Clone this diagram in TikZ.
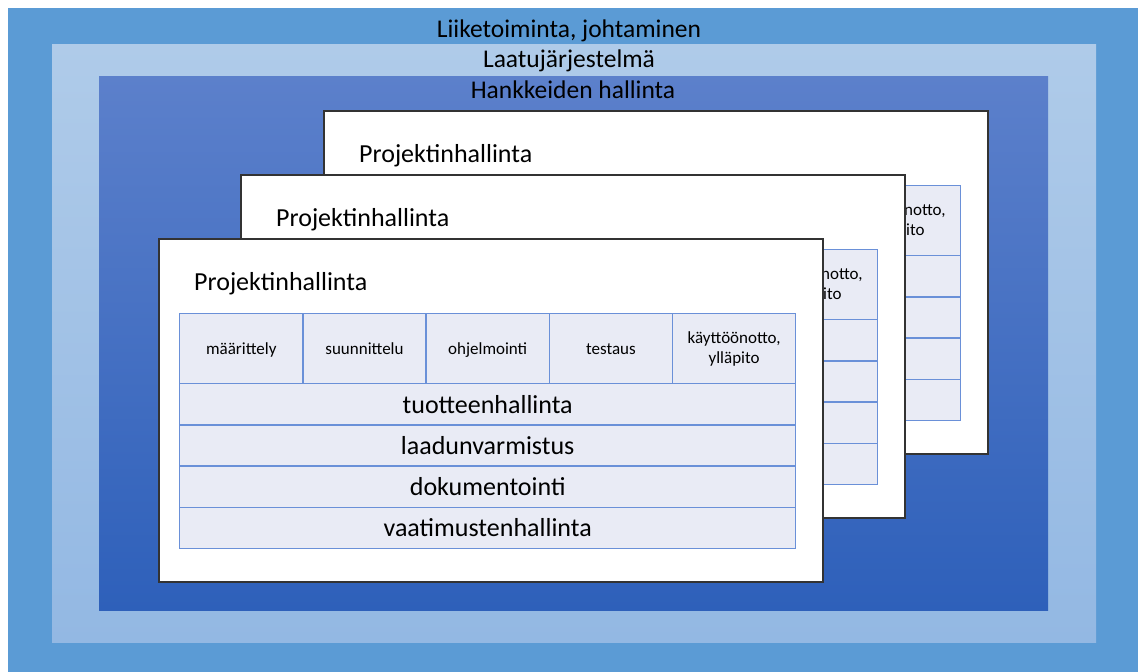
\documentclass[tikz,border=0pt]{standalone}
\usepackage{fontspec}
\setmainfont{Carlito}
\definecolor{outerblue}{HTML}{5B9BD5}
\definecolor{midtop}{HTML}{AFCBE9}
\definecolor{midbot}{HTML}{93B8E3}
\definecolor{intop}{HTML}{5C80CB}
\definecolor{inbot}{HTML}{2E60BA}
\definecolor{cellfill}{HTML}{E9EBF5}
\definecolor{cellline}{HTML}{6A90D8}
\definecolor{cardline}{HTML}{333333}
\tikzset{
  cardbox/.style={draw=cardline, line width=1.6pt, fill=white, anchor=north west,
    minimum width=664pt, minimum height=343pt, inner sep=0pt},
  cardtitle/.style={anchor=base west, font=\fontsize{26}{30}\selectfont, inner sep=0pt},
  cellbase/.style={draw=cellline, line width=1.4pt, fill=cellfill, anchor=north west,
    inner sep=0pt},
  phase/.style={cellbase, minimum width=123.2pt, minimum height=70pt,
    font=\fontsize{17}{20}\selectfont, text height=13pt, text depth=1pt},
  phasetwo/.style={cellbase, minimum width=123.2pt, minimum height=70pt, align=center,
    font=\fontsize{17}{20}\selectfont},
  band/.style={cellbase, minimum width=616pt, minimum height=41.2pt,
    font=\fontsize{26}{30}\selectfont, text height=20pt, text depth=2pt},
  layerlabel/.style={anchor=base, font=\fontsize{25.5}{29}\selectfont, inner sep=0pt}
}
\begin{document}
\begin{tikzpicture}[x=1pt,y=-1pt]
\useasboundingbox (0,0) rectangle (1138,672);
\fill[white] (0,0) rectangle (1138,672);
\fill[outerblue] (8,8) rectangle (1138,672);
\shade[top color=midtop, bottom color=midbot] (52,44) rectangle (1096,642);
\shade[top color=intop, bottom color=inbot] (99,76) rectangle (1048,610);
\node[layerlabel] (liike) at (569,37) {Liiketoiminta, johtaminen};
\node[layerlabel] (laatu) at (569,67) {Laatujärjestelmä};
\node[layerlabel] (hanke) at (573,98) {Hankkeiden hallinta};
\foreach \dx/\dy/\k in {165/-128/3, 82/-64/2, 0/0/1} {
  \begin{scope}[shift={(\dx,\dy)}]
    \node[cardbox] (card\k) at (158,238) {};
    \node[cardtitle] (title\k) at (194,290) {Projektinhallinta};
    \node[phase] (p1\k) at (179,313) {määrittely};
    \node[phase] (p2\k) at (302.2,313) {suunnittelu};
    \node[phase] (p3\k) at (425.4,313) {ohjelmointi};
    \node[phase] (p4\k) at (548.6,313) {testaus};
    \node[phasetwo] (p5\k) at (671.8,313) {käyttöönotto,\\ylläpito};
    \node[band] (b1\k) at (179,383) {tuotteenhallinta};
    \node[band] (b2\k) at (179,424.2) {laadunvarmistus};
    \node[band] (b3\k) at (179,465.4) {dokumentointi};
    \node[band] (b4\k) at (179,506.6) {vaatimustenhallinta};
  \end{scope}
}
\end{tikzpicture}
\end{document}
